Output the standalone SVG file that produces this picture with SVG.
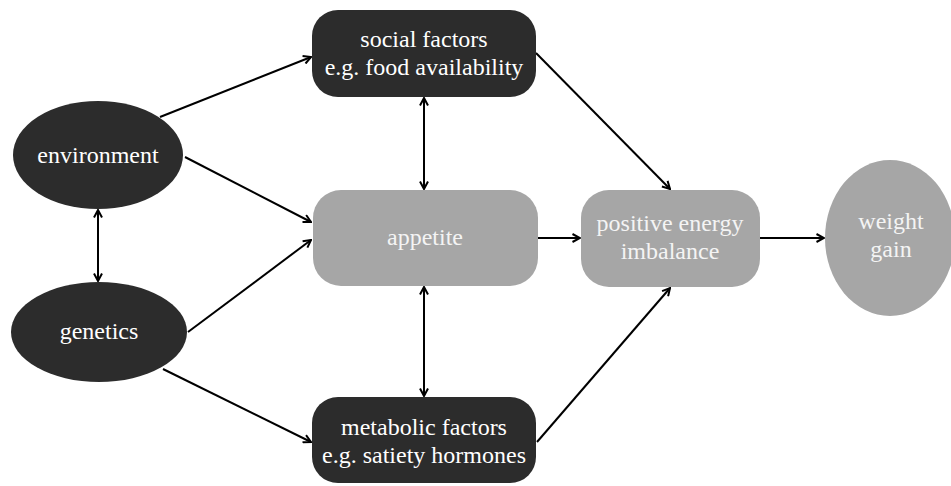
<svg xmlns="http://www.w3.org/2000/svg" width="951" height="486" viewBox="0 0 951 486">
<style>
.dark{fill:#2c2c2c;}
.gray{fill:#a6a6a6;}
.t{font-family:"Liberation Serif","Times New Roman",serif;font-size:24px;text-anchor:middle;}
.tw{fill:#ffffff;}
.tg{fill:#f4f4f4;}
.c line{stroke:#000;stroke-width:2;fill:none;}
.one{marker-end:url(#ah);}
.two{marker-start:url(#ah);marker-end:url(#ah);}
</style>
<defs>
<marker id="ah" viewBox="0 0 10 10" refX="9" refY="5" markerWidth="10" markerHeight="10" markerUnits="userSpaceOnUse" orient="auto-start-reverse">
<path d="M1.5,1 L9,5 L1.5,9" fill="none" stroke="#000" stroke-width="2"/>
</marker>
</defs>
<rect width="951" height="486" fill="#ffffff"/>
<g class="c" id="connectors">
<line class="one" x1="160" y1="117" x2="311" y2="57"/>
<line class="one" x1="185" y1="157" x2="311" y2="222"/>
<line class="one" x1="188" y1="332" x2="311" y2="240"/>
<line class="one" x1="163" y1="369" x2="311" y2="442"/>
<line class="two" x1="98" y1="210" x2="98" y2="281"/>
<line class="two" x1="424" y1="98" x2="424" y2="189"/>
<line class="two" x1="424" y1="287" x2="424" y2="396"/>
<line class="one" x1="536" y1="53" x2="670" y2="189"/>
<line class="one" x1="537" y1="442" x2="670" y2="288"/>
<line class="one" x1="538" y1="238" x2="580" y2="238"/>
<line class="one" x1="760" y1="238" x2="824" y2="238"/>
</g>
<g id="environment">
<ellipse class="dark" cx="98" cy="155" rx="85" ry="54"/>
<text class="t tw" x="98" y="163">environment</text>
</g>
<g id="genetics">
<ellipse class="dark" cx="99" cy="332" rx="88" ry="50"/>
<text class="t tw" x="99" y="339">genetics</text>
</g>
<g id="social">
<rect class="dark" x="312" y="10" width="224" height="87" rx="26"/>
<text class="t tw" x="424" y="47">social factors</text>
<text class="t tw" x="424" y="75">e.g. food availability</text>
</g>
<g id="appetite">
<rect class="gray" x="313" y="190" width="225" height="96" rx="28"/>
<text class="t tg" x="425" y="245">appetite</text>
</g>
<g id="metabolic">
<rect class="dark" x="312" y="397" width="224" height="86" rx="26"/>
<text class="t tw" x="424" y="435">metabolic factors</text>
<text class="t tw" x="424" y="463">e.g. satiety hormones</text>
</g>
<g id="positive">
<rect class="gray" x="581" y="190" width="179" height="97" rx="28"/>
<text class="t tg" x="670" y="231">positive energy</text>
<text class="t tg" x="670" y="259">imbalance</text>
</g>
<g id="weight">
<ellipse class="gray" cx="890" cy="238" rx="65" ry="78"/>
<text class="t tg" x="891" y="229">weight</text>
<text class="t tg" x="891" y="257">gain</text>
</g>
</svg>
